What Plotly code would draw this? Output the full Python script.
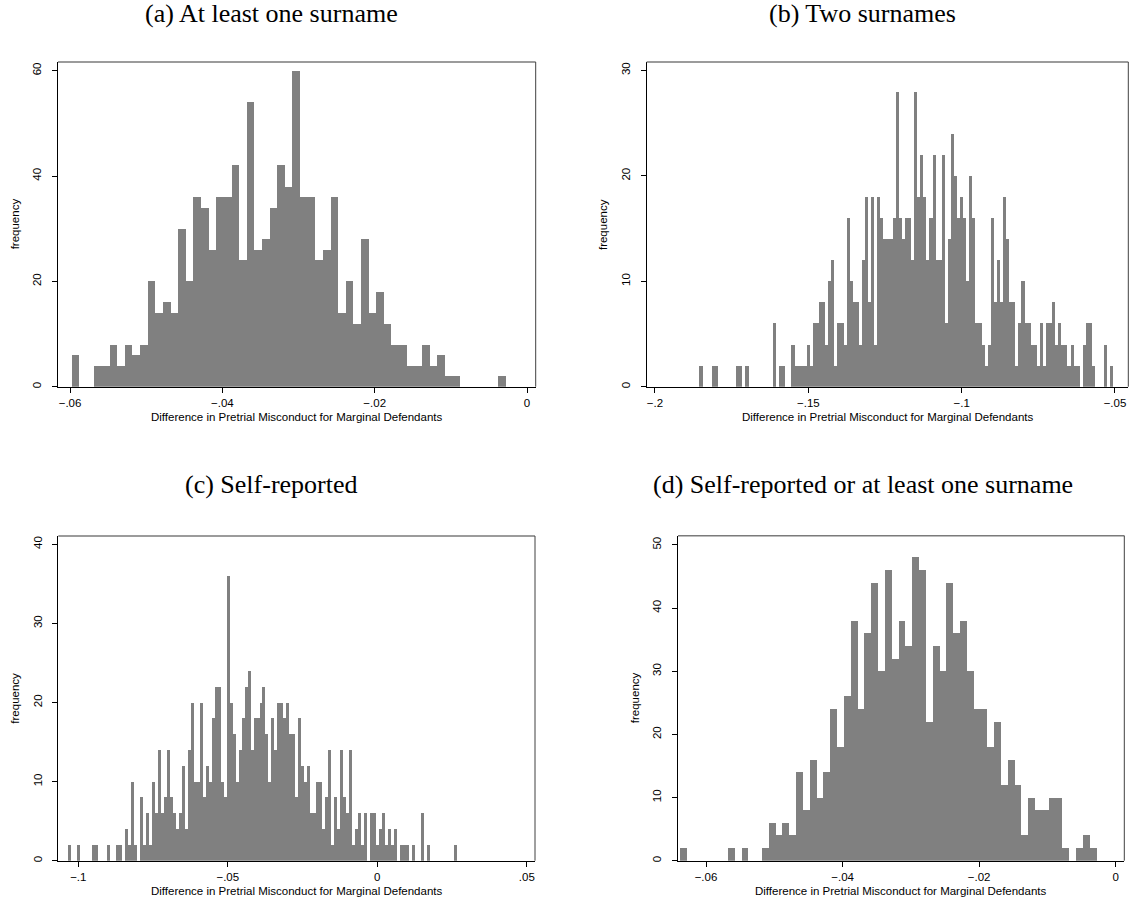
import plotly.graph_objects as go

W, H = 1134, 911

# ---------------- data ----------------
# (a) At least one surname
a_bin_start = -0.0598
a_bin_width = 0.001
a_counts = [6, 0, 0, 4, 4, 8, 4, 8, 6, 8,
            20, 14, 16, 14, 30, 20, 36, 34, 26, 36,
            36, 42, 24, 54, 26, 28, 34, 42, 38, 60,
            36, 36, 24, 26, 36, 14, 20, 12, 28, 14,
            18, 12, 8, 8, 4, 4, 8, 4, 6, 2,
            2, 0, 0, 0, 0, 0, 2]
a_xticks = [-0.06, -0.04, -0.02, 0]
a_xticklabels = ["\u2212.06", "\u2212.04", "\u2212.02", "0"]
a_yticks = [0, 20, 40, 60]

# (b) Two surnames
b_bin_start = -0.1855
b_bin_width = 0.001
b_counts = [2, 0, 0, 0, 2, 2, 0, 0, 0, 0,
            0, 0, 2, 2, 0, 2, 0, 0, 0, 0,
            0, 0, 0, 0, 6, 0, 2, 2, 0, 0,
            4, 2, 2, 2, 2, 4, 2, 6, 6, 8,
            8, 4, 10, 12, 2, 6, 6, 4, 16, 10,
            8, 8, 4, 12, 18, 8, 18, 4, 18, 16,
            14, 14, 14, 16, 28, 16, 14, 16, 16, 12,
            28, 18, 22, 18, 12, 16, 22, 12, 12, 22,
            6, 14, 24, 20, 16, 18, 16, 10, 20, 16,
            6, 6, 4, 2, 4, 16, 8, 12, 8, 18,
            14, 8, 8, 2, 6, 10, 6, 6, 4, 4,
            2, 6, 2, 6, 6, 8, 4, 6, 4, 4,
            2, 4, 2, 2, 0, 4, 6, 6, 2, 0,
            0, 0, 4, 0, 2]
b_xticks = [-0.2, -0.15, -0.1, -0.05]
b_xticklabels = ["\u2212.2", "\u2212.15", "\u2212.1", "\u2212.05"]
b_yticks = [0, 10, 20, 30]

# (c) Self-reported
c_bin_start = -0.1034
c_bin_width = 0.001
c_counts = [2, 0, 0, 2, 0, 0, 0, 0, 2, 2,
            0, 0, 0, 2, 0, 0, 2, 2, 0, 4,
            2, 10, 2, 0, 8, 2, 6, 2, 10, 6,
            14, 6, 8, 14, 8, 6, 4, 6, 12, 4,
            14, 20, 10, 10, 20, 8, 12, 10, 18, 22,
            22, 10, 8, 36, 20, 16, 10, 14, 18, 22,
            24, 14, 18, 18, 20, 22, 16, 10, 18, 14,
            20, 20, 18, 20, 16, 16, 8, 18, 12, 10,
            12, 6, 6, 10, 10, 4, 8, 14, 2, 8,
            4, 14, 8, 6, 14, 2, 4, 6, 2, 6,
            0, 6, 6, 2, 4, 6, 2, 4, 2, 4,
            0, 2, 2, 2, 0, 2, 0, 0, 6, 0,
            2, 0, 0, 0, 0, 0, 0, 0, 0, 2]
c_xticks = [-0.1, -0.05, 0, 0.05]
c_xticklabels = ["\u2212.1", "\u2212.05", "0", ".05"]
c_yticks = [0, 10, 20, 30, 40]

# (d) Self-reported or at least one surname
d_bin_start = -0.0638
d_bin_width = 0.001
d_counts = [2, 0, 0, 0, 0, 0, 0, 2, 0, 2,
            0, 0, 2, 6, 4, 6, 4, 14, 8, 16,
            10, 14, 24, 18, 26, 38, 24, 36, 44, 30,
            46, 32, 38, 34, 48, 46, 22, 34, 30, 44,
            36, 38, 30, 24, 24, 18, 22, 12, 16, 12,
            4, 10, 8, 8, 10, 10, 2, 0, 2, 4,
            2]
d_xticks = [-0.06, -0.04, -0.02, 0]
d_xticklabels = ["\u2212.06", "\u2212.04", "\u2212.02", "0"]
d_yticks = [0, 10, 20, 30, 40, 50]

titles = ["(a) At least one surname", "(b) Two surnames",
          "(c) Self-reported", "(d) Self-reported or at least one surname"]
x_title = "Difference in Pretrial Misconduct for Marginal Defendants"
y_title = "frequency"

# ---------------- layout geometry (pixels) ----------------
# left, right, top, bottom of each plot region
geom = [
    (58.0, 535.7, 62.0, 386.7),
    (646.7, 1128.3, 62.0, 386.7),
    (58.3, 535.0, 536.0, 860.7),
    (678.0, 1124.3, 535.7, 860.7),
]
xranges = [(-0.06158, 0.00114), (-0.2027, -0.04566),
           (-0.10669, 0.05274), (-0.0641, 0.00126)]
yranges = [(0, 61.65), (0, 30.8), (0, 41.05), (0, 51.45)]
title_pos = [(271.5, 13), (862.5, 13), (271.5, 485), (862.5, 485)]

panels = [
    (a_bin_start, a_bin_width, a_counts, a_xticks, a_xticklabels, a_yticks),
    (b_bin_start, b_bin_width, b_counts, b_xticks, b_xticklabels, b_yticks),
    (c_bin_start, c_bin_width, c_counts, c_xticks, c_xticklabels, c_yticks),
    (d_bin_start, d_bin_width, d_counts, d_xticks, d_xticklabels, d_yticks),
]

BAR = "#808080"
SANS = "Liberation Sans, Arial, sans-serif"
SERIF = "Liberation Serif, Times New Roman, serif"


def px(x):
    return x / W


def py(y):
    return 1 - y / H


fig = go.Figure()
layout = dict(
    width=W, height=H,
    margin=dict(l=0, r=0, t=0, b=0),
    paper_bgcolor="white", plot_bgcolor="white",
    showlegend=False, bargap=0, barmode="overlay",
)
annotations = []
shapes = []

for i, (start, width, counts, xt, xtl, yt) in enumerate(panels):
    n = i + 1
    xa = "x" if n == 1 else f"x{n}"
    ya = "y" if n == 1 else f"y{n}"
    centers = [start + width * (k + 0.5) for k in range(len(counts))]
    fig.add_trace(go.Bar(
        x=centers, y=counts, width=width,
        marker=dict(color=BAR, line=dict(width=0)),
        xaxis=xa, yaxis=ya, hoverinfo="x+y",
    ))
    l, r, t, b = geom[i]
    xkey = "xaxis" if n == 1 else f"xaxis{n}"
    ykey = "yaxis" if n == 1 else f"yaxis{n}"
    layout[xkey] = dict(
        domain=[px(l), px(r)], range=list(xranges[i]), anchor=ya,
        showgrid=False, zeroline=False, showline=True, linecolor="black",
        linewidth=1, ticks="outside", ticklen=5, tickwidth=1, tickcolor="black",
        tickvals=xt, ticktext=xtl, tickfont=dict(family=SANS, size=11.5, color="black"),
        fixedrange=True,
    )
    layout[ykey] = dict(
        domain=[py(b), py(t)], range=list(yranges[i]), anchor=xa,
        showgrid=False, zeroline=False, showline=True, linecolor="black",
        linewidth=1, ticks="outside", ticklen=5, tickwidth=1, tickcolor="black",
        tickvals=yt, ticktext=[str(v) for v in yt], tickangle=-90,
        ticklabelstandoff=6,
        tickfont=dict(family=SANS, size=11.5, color="black"),
        fixedrange=True,
    )
    # plot-region outline (top and right)
    shapes.append(dict(type="line", xref="paper", yref="paper",
                       x0=px(l), x1=px(r), y0=py(t), y1=py(t),
                       line=dict(color="#7a7a7a", width=1.5)))
    shapes.append(dict(type="line", xref="paper", yref="paper",
                       x0=px(r), x1=px(r), y0=py(t), y1=py(b),
                       line=dict(color="#404040", width=1)))
    # panel title
    tx, ty = title_pos[i]
    annotations.append(dict(text=titles[i], x=px(tx), y=py(ty), xref="paper", yref="paper",
                            xanchor="center", yanchor="middle", showarrow=False,
                            font=dict(family=SERIF, size=26, color="black")))
    # x-axis title
    annotations.append(dict(text=x_title, x=px((l + r) / 2), y=py(b + 30), xref="paper",
                            yref="paper", xanchor="center", yanchor="middle", showarrow=False,
                            font=dict(family=SANS, size=11.5, color="black")))
    # y-axis title
    annotations.append(dict(text=y_title, x=px(l - 43), y=py((t + b) / 2), xref="paper",
                            yref="paper", xanchor="center", yanchor="middle", showarrow=False,
                            textangle=-90,
                            font=dict(family=SANS, size=11.5, color="black")))

layout["annotations"] = annotations
layout["shapes"] = shapes
fig.update_layout(**layout)
fig.write_html(
    "out.html",
    config={"displayModeBar": False, "staticPlot": True},
    post_script="document.body.style.margin='0';document.body.style.overflow='hidden';",
)
